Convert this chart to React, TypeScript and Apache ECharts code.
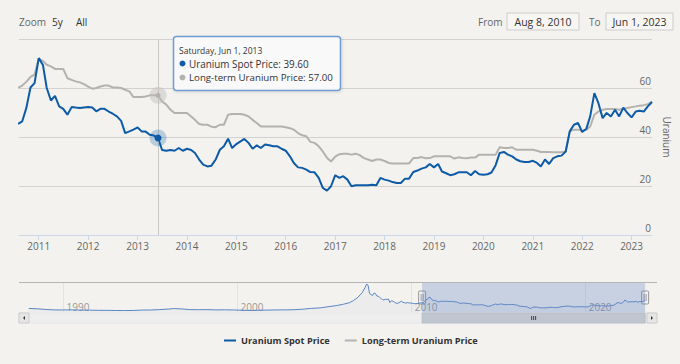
import React, { useEffect, useRef } from 'react';
import * as echarts from 'echarts';

const BG = '#f3f2ee';
const FONT = '"Open Sans", "DejaVu Sans", sans-serif';
const BLUE = '#0d5ba6';
const GRAY = '#b4b2ae';
const NAV_BLUE = '#5b86c5';

const seriesNames = ['Uranium Spot Price', 'Long-term Uranium Price'];
const firstMonth = '2010-08';

const spotValues = [
  45.4, 46.4, 51.8, 60.2, 62.0,
  72.2, 69.4, 60.0, 54.9, 56.8, 52.5, 51.5, 49.1, 52.2, 52.0, 51.8, 52.0,
  52.2, 52.0, 50.5, 51.5, 51.5, 50.4, 49.5, 48.4, 46.6, 41.6, 42.3, 43.0,
  43.9, 42.2, 42.2, 40.9, 40.6, 39.6, 34.7, 34.4, 34.7, 34.4, 35.5, 34.4,
  35.2, 34.7, 33.5, 30.8, 28.7, 28.0, 28.3, 30.8, 34.8, 36.2, 39.3, 35.5,
  37.1, 38.2, 39.2, 37.6, 35.2, 36.6, 35.5, 36.9, 36.6, 36.2, 36.2, 35.2,
  34.4, 32.1, 29.4, 27.6, 27.4, 26.7, 25.7, 25.6, 23.3, 19.2, 18.1, 19.9,
  24.4, 23.3, 24.0, 22.6, 19.9, 20.3, 20.3, 20.3, 20.3, 20.5, 20.3, 23.3,
  22.6, 22.2, 21.6, 21.2, 21.2, 23.0, 23.0, 25.7, 26.3, 27.1, 27.6, 29.0,
  27.6, 29.0, 25.9, 25.2, 24.4, 24.8, 25.6, 25.6, 25.6, 24.4, 26.1, 24.8,
  24.6, 24.8, 25.5, 28.5, 33.5, 33.9, 32.8, 32.1, 30.8, 30.1, 29.8, 29.8,
  30.3, 29.4, 28.0, 30.8, 29.0, 31.4, 32.1, 32.4, 34.1, 42.3, 45.0, 45.7,
  42.0, 43.4, 48.4, 57.9, 53.8, 47.7, 49.8, 48.4, 51.1, 48.4, 52.0, 49.8,
  48.0, 50.4, 50.7, 50.4, 52.5, 54.3,
];

const termValues = [
  60.0, 61.0, 62.5, 64.5, 65.5,
  72.0, 71.0, 69.5, 68.8, 67.8, 67.8, 67.8, 64.0, 63.3, 62.7, 62.3, 61.6,
  60.6, 59.7, 60.0, 60.6, 61.0, 61.0, 60.2, 60.2, 60.0, 59.3, 58.6, 56.3,
  56.3, 56.3, 56.5, 57.0, 57.0, 57.0, 54.5, 53.2, 51.1, 49.8, 49.8, 49.8,
  49.8, 48.4, 47.0, 45.3, 45.0, 45.0, 44.2, 44.0, 45.0, 45.0, 49.1, 49.4,
  49.4, 49.4, 49.1, 48.4, 47.0, 45.7, 44.3, 44.3, 44.3, 44.3, 44.3, 44.3,
  44.0, 43.6, 43.0, 41.6, 40.7, 40.3, 38.0, 37.6, 36.2, 34.1, 31.5, 30.0,
  32.0, 33.0, 33.2, 33.2, 32.8, 33.2, 32.6, 31.4, 30.8, 30.2, 30.8, 30.8,
  30.2, 29.4, 29.2, 29.2, 29.2, 29.2, 29.2, 31.4, 31.4, 31.8, 31.3, 31.4,
  32.1, 32.1, 32.1, 32.1, 32.1, 31.2, 31.7, 31.4, 31.3, 31.6, 31.6, 32.8,
  32.8, 32.8, 32.8, 32.8, 35.8, 35.5, 35.5, 35.8, 34.8, 34.8, 34.8, 34.8,
  34.8, 34.4, 33.9, 33.9, 33.9, 33.8, 33.8, 33.8, 34.1, 42.3, 43.0, 43.0,
  42.6, 43.0, 44.3, 49.1, 50.4, 51.1, 51.4, 51.4, 51.4, 51.1, 51.5, 51.8,
  52.2, 52.5, 52.8, 53.0, 53.4, 54.5,
];

// earlier spot history, shown only in the navigator
const histMonths = [
  '1988-01', '1988-07', '1989-01', '1989-07', '1990-01', '1990-07', '1991-01', '1991-07',
  '1992-01', '1992-07', '1993-01', '1993-07', '1994-01', '1994-07', '1995-01', '1995-07',
  '1996-01', '1996-05', '1996-10', '1997-04', '1997-10', '1998-04', '1998-10', '1999-04',
  '1999-10', '2000-04', '2000-10', '2001-04', '2001-10', '2002-04', '2002-10', '2003-04',
  '2003-10', '2004-04', '2004-10', '2005-04', '2005-10', '2006-02', '2006-06', '2006-09',
  '2006-12', '2007-03', '2007-05', '2007-06', '2007-07', '2007-08', '2007-09', '2007-10',
  '2007-11', '2007-12', '2008-01', '2008-02', '2008-03', '2008-04', '2008-05', '2008-06',
  '2008-07', '2008-08', '2008-09', '2008-10', '2008-11', '2008-12', '2009-01', '2009-02',
  '2009-03', '2009-04', '2009-05', '2009-06', '2009-07', '2009-08', '2009-09', '2009-10',
  '2009-11', '2009-12', '2010-01', '2010-02', '2010-03', '2010-04', '2010-05', '2010-06',
  '2010-07',
];
const histSpot = [
  17.0, 15.5, 12.0, 10.0, 9.8, 10.5, 9.2, 8.8,
  8.0, 7.8, 7.2, 7.0, 7.3, 9.3, 9.5, 11.5,
  14.0, 16.5, 15.0, 11.5, 11.0, 11.5, 10.0, 10.6,
  9.8, 8.5, 7.2, 8.5, 9.2, 9.9, 10.2, 11.0,
  13.5, 17.5, 20.0, 26.0, 32.0, 38.0, 45.0, 56.0,
  72.0, 95.0, 120.0, 136.0, 130.0, 90.0, 85.0, 80.0,
  92.0, 90.0, 78.0, 76.0, 71.0, 65.0, 60.0, 59.0,
  62.0, 61.0, 63.0, 46.0, 55.0, 53.0, 48.0, 44.0,
  42.0, 44.0, 49.0, 52.0, 47.0, 45.0, 43.0, 46.0,
  44.0, 44.0, 43.0, 41.0, 41.0, 40.0, 41.0, 42.0,
  44.0,
];

const yearTicks = [2011, 2012, 2013, 2014, 2015, 2016, 2017, 2018, 2019, 2020, 2021, 2022, 2023];
const navYearTicks = [1990, 2000, 2010, 2020];
const yTicks = [0, 20, 40, 60, 80];
const viewFrom = '2010-08-08';
const viewTo = '2023-06-01';
const navFrom = '1987-06-10';
const navTo = '2024-02-05';
const hoverMonth = '2013-06';

const fromLabel = 'Aug 8, 2010';
const toLabel = 'Jun 1, 2023';
const zoomButtons = ['5y', 'All'];

const ts = (s: string) => {
  const [y, m, d] = s.split('-').map(Number);
  return Date.UTC(y, m - 1, d || 1);
};
const monthTs = (i: number) => {
  const [y, m] = firstMonth.split('-').map(Number);
  return Date.UTC(y, m - 1 + i, 1);
};
const yearTs = (y: number) => Date.UTC(y, 0, 1);

const DAYS = ['Sunday', 'Monday', 'Tuesday', 'Wednesday', 'Thursday', 'Friday', 'Saturday'];
const MONTHS = ['Jan', 'Feb', 'Mar', 'Apr', 'May', 'Jun', 'Jul', 'Aug', 'Sep', 'Oct', 'Nov', 'Dec'];

export default function App() {
  const ref = useRef<HTMLDivElement>(null);

  useEffect(() => {
    if (!ref.current) return;
    const chart = echarts.init(ref.current, null, { renderer: 'svg', width: 680, height: 364 });

    const spotData = spotValues.map((v, i) => [monthTs(i), v]);
    const termData = termValues.map((v, i) => [monthTs(i), v]);
    const navData = histMonths.map((m, i) => [ts(m), histSpot[i]]).concat(spotData);

    const hoverT = ts(hoverMonth);
    const hoverIdx = spotData.findIndex((d) => d[0] === hoverT);
    const hd = new Date(hoverT);
    const header = `${DAYS[hd.getUTCDay()]}, ${MONTHS[hd.getUTCMonth()]} ${hd.getUTCDate()}, ${hd.getUTCFullYear()}`;

    const yearFmt = (v: number) => String(new Date(v).getUTCFullYear());

    chart.setOption({
      animation: false,
      backgroundColor: BG,
      textStyle: { fontFamily: FONT },
      grid: [
        { left: 19, right: 23, top: 39, height: 196 },
        { left: 19, right: 23, top: 282, height: 31 },
      ],
      xAxis: [
        {
          type: 'value', gridIndex: 0, min: ts(viewFrom), max: ts(viewTo),
          axisLine: { lineStyle: { color: '#ccd6eb' } },
          axisTick: { show: true, length: 5, lineStyle: { color: '#ccd6eb' }, customValues: yearTicks.map(yearTs) },
          axisLabel: { customValues: yearTicks.map(yearTs), formatter: yearFmt, color: '#666', fontSize: 10, margin: 6, fontFamily: FONT },
          splitLine: { show: false },
        },
        {
          type: 'value', gridIndex: 1, min: ts(navFrom), max: ts(navTo),
          axisLine: { show: false },
          axisTick: { show: false, customValues: navYearTicks.map(yearTs) },
          axisLabel: { inside: true, customValues: navYearTicks.map(yearTs), formatter: yearFmt, color: '#999', fontSize: 10, margin: 1, align: 'left', padding: [0, 0, 0, 3], fontFamily: FONT },
          splitLine: { show: true, lineStyle: { color: '#e3e3e3', width: 1 } },
        },
      ],
      yAxis: [
        {
          type: 'value', gridIndex: 0, position: 'right', min: yTicks[0], max: yTicks[yTicks.length - 1], interval: 20,
          name: 'Uranium', nameLocation: 'middle', nameRotate: -90, nameGap: 10,
          nameTextStyle: { color: '#666', fontSize: 10, fontFamily: FONT },
          axisLine: { show: false }, axisTick: { show: false },
          axisLabel: {
            inside: true, margin: 1, verticalAlign: 'bottom', padding: [0, 0, 2, 0], color: '#666', fontSize: 10, fontFamily: FONT,
            formatter: (v: number) => (v === yTicks[yTicks.length - 1] ? '' : String(v)),
          },
          splitLine: { lineStyle: { color: '#d2d2d2', width: 1 } },
        },
        { type: 'value', gridIndex: 1, min: -5, max: 146, show: false, splitLine: { show: false } },
      ],
      legend: {
        data: seriesNames, left: 224, top: 336, padding: 0, icon: 'rect', itemWidth: 12, itemHeight: 2, itemGap: 15,
        textStyle: { fontWeight: 'bold', color: '#333', fontSize: 9.2, fontFamily: FONT },
      },
      series: [
        {
          name: seriesNames[1], type: 'line', xAxisIndex: 0, yAxisIndex: 0, data: termData, showSymbol: false,
          lineStyle: { color: GRAY, width: 2 }, itemStyle: { color: GRAY }, z: 2, silent: true,
          markLine: {
            silent: true, symbol: ['none', 'none'], label: { show: false },
            lineStyle: { color: '#c8c8c8', width: 1, type: 'solid' },
            data: [{ xAxis: hoverT }],
          },
          markPoint: {
            silent: true, label: { show: false },
            data: [
              { coord: [hoverT, termValues[hoverIdx]], symbol: 'circle', symbolSize: 17, itemStyle: { color: 'rgba(190,188,184,0.45)' } },
              { coord: [hoverT, termValues[hoverIdx]], symbol: 'circle', symbolSize: 5, itemStyle: { color: GRAY } },
            ],
          },
        },
        {
          name: seriesNames[0], type: 'line', xAxisIndex: 0, yAxisIndex: 0, data: spotData, showSymbol: false,
          lineStyle: { color: BLUE, width: 2 }, itemStyle: { color: BLUE }, z: 3, silent: true,
          markPoint: {
            silent: true, label: { show: false },
            data: [
              { coord: [hoverT, spotValues[hoverIdx]], symbol: 'circle', symbolSize: 17, itemStyle: { color: 'rgba(13,91,166,0.25)' } },
              { coord: [hoverT, spotValues[hoverIdx]], symbol: 'circle', symbolSize: 7, itemStyle: { color: BLUE } },
            ],
          },
        },
        {
          name: 'navigator', type: 'line', xAxisIndex: 1, yAxisIndex: 1, data: navData, showSymbol: false, silent: true,
          lineStyle: { color: NAV_BLUE, width: 1 }, areaStyle: { color: 'rgba(91,134,197,0.07)' },
          markArea: {
            silent: true, itemStyle: { color: 'rgba(102,133,194,0.3)' }, label: { show: false },
            data: [[{ xAxis: ts(viewFrom) }, { xAxis: ts(viewTo) }]],
          },
        },
      ],
    });

    const nx = (s: string) => chart.convertToPixel({ xAxisIndex: 1 }, ts(s)) as number;
    const navL = nx(navFrom);
    const navR = nx(navTo);
    const selL = nx(viewFrom);
    const selR = nx(viewTo);
    const navTop = 282;
    const sbTop = 313;
    const sbH = 10;

    const txt = (text: string, x: number, y: number, fill: string, size: number, align = 'left', weight = 'normal') => ({
      type: 'text', z: 100,
      style: { text, x, y, fill, fontSize: size, fontFamily: FONT, fontWeight: weight, textAlign: align, textVerticalAlign: 'middle' },
    });

    const handle = (cx: number) => ({
      type: 'group', z: 60,
      children: [
        { type: 'rect', shape: { x: cx - 3.5, y: 291, width: 7, height: 13, r: 1 }, style: { fill: '#f2f2f2', stroke: '#999', lineWidth: 1 } },
        { type: 'line', shape: { x1: cx - 1, y1: 294, x2: cx - 1, y2: 301 }, style: { stroke: '#999', lineWidth: 1 } },
        { type: 'line', shape: { x1: cx + 1, y1: 294, x2: cx + 1, y2: 301 }, style: { stroke: '#999', lineWidth: 1 } },
      ],
    });

    const thumbC = (selL + selR) / 2;

    chart.setOption({
      graphic: [
        txt('Zoom', 19, 22, '#666', 10),
        txt(zoomButtons[0], 52, 22, '#333', 10),
        txt(zoomButtons[1], 76, 22, '#333', 10),
        txt('From', 478, 22, '#666', 10),
        { type: 'rect', z: 90, shape: { x: 507, y: 13, width: 72, height: 17 }, style: { fill: '#f7f6f3', stroke: '#cccccc', lineWidth: 1 } },
        txt(fromLabel, 543, 22, '#333', 10.5, 'center'),
        txt('To', 589, 22, '#666', 10),
        { type: 'rect', z: 90, shape: { x: 606, y: 13, width: 67, height: 17 }, style: { fill: '#f7f6f3', stroke: '#cccccc', lineWidth: 1 } },
        txt(toLabel, 639.5, 22, '#333', 10.5, 'center'),
        {
          type: 'rect', z: 95, shape: { x: 173.5, y: 36.5, width: 167, height: 54, r: 3 },
          style: { fill: 'rgba(250,250,250,0.95)', stroke: '#6f9dd3', lineWidth: 1.5, shadowBlur: 3, shadowColor: 'rgba(0,0,0,0.12)', shadowOffsetX: 1, shadowOffsetY: 1 },
        },
        txt(header, 179, 50, '#333', 8.5),
        { type: 'circle', z: 100, shape: { cx: 182.5, cy: 63.5, r: 3 }, style: { fill: BLUE } },
        txt(`${seriesNames[0]}: ${spotValues[hoverIdx].toFixed(2)}`, 189, 63.5, '#333', 9.9),
        { type: 'circle', z: 100, shape: { cx: 182.5, cy: 77.5, r: 3 }, style: { fill: GRAY } },
        txt(`${seriesNames[1]}: ${termValues[hoverIdx].toFixed(2)}`, 189, 77.5, '#333', 9.7),
        { type: 'line', z: 50, shape: { x1: navL, y1: navTop + 0.5, x2: navR, y2: navTop + 0.5 }, style: { stroke: '#b5b5b5', lineWidth: 1 } },
        { type: 'rect', z: 50, shape: { x: navL, y: sbTop, width: navR - navL, height: sbH }, style: { fill: '#eeeeee', stroke: '#e6e6e6', lineWidth: 1 } },
        { type: 'rect', z: 51, shape: { x: selL, y: sbTop, width: selR - selL, height: sbH }, style: { fill: '#bfc6d0', stroke: '#b8bec8', lineWidth: 1 } },
        { type: 'line', z: 52, shape: { x1: thumbC - 2, y1: sbTop + 3, x2: thumbC - 2, y2: sbTop + 7 }, style: { stroke: '#444', lineWidth: 1 } },
        { type: 'line', z: 52, shape: { x1: thumbC, y1: sbTop + 3, x2: thumbC, y2: sbTop + 7 }, style: { stroke: '#444', lineWidth: 1 } },
        { type: 'line', z: 52, shape: { x1: thumbC + 2, y1: sbTop + 3, x2: thumbC + 2, y2: sbTop + 7 }, style: { stroke: '#444', lineWidth: 1 } },
        { type: 'rect', z: 53, shape: { x: navL, y: sbTop, width: 10, height: sbH }, style: { fill: '#e6e6e6', stroke: '#cccccc', lineWidth: 1 } },
        { type: 'polygon', z: 54, shape: { points: [[navL + 6, sbTop + 3], [navL + 6, sbTop + 7], [navL + 4, sbTop + 5]] }, style: { fill: '#333' } },
        { type: 'rect', z: 53, shape: { x: navR - 10, y: sbTop, width: 10, height: sbH }, style: { fill: '#e6e6e6', stroke: '#cccccc', lineWidth: 1 } },
        { type: 'polygon', z: 54, shape: { points: [[navR - 6, sbTop + 3], [navR - 6, sbTop + 7], [navR - 4, sbTop + 5]] }, style: { fill: '#333' } },
        handle(selL),
        handle(selR),
      ],
    });

    return () => chart.dispose();
  }, []);

  return <div ref={ref} style={{ position: 'fixed', left: 0, top: 0, width: 680, height: 364, background: BG }} />;
}
